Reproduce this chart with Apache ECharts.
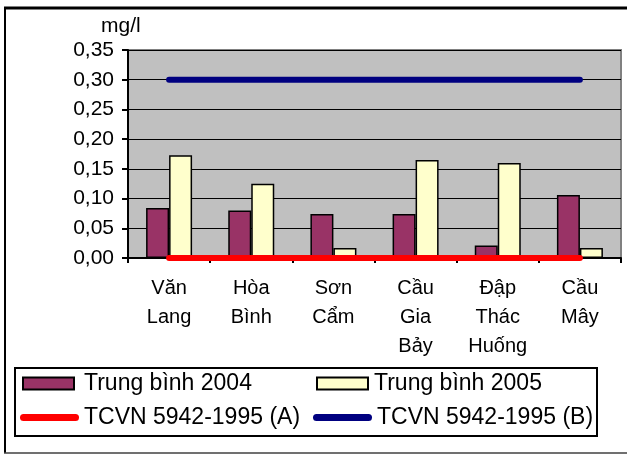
<!DOCTYPE html>
<html>
<head>
<meta charset="utf-8">
<script src="https://cdn.jsdelivr.net/npm/echarts@6/dist/echarts.min.js"></script>
<style>
  html, body { margin: 0; padding: 0; background: #ffffff; }
  #chart { width: 627px; height: 455px; }
</style>
</head>
<body>
<div id="chart"></div>
<script>
// Sampling sites (labels wrap over several lines)
const sites = ['Văn\nLang', 'Hòa\nBình', 'Sơn\nCẩm', 'Cầu\nGia\nBảy', 'Đập\nThác\nHuống', 'Cầu\nMây'];

// Annual averages, mg/l
const avg2004 = [0.084, 0.080, 0.074, 0.074, 0.021, 0.106];
const avg2005 = [0.173, 0.125, 0.017, 0.165, 0.160, 0.017];

// Standard limits TCVN 5942-1995, columns A and B
const limitA = [0, 0, 0, 0, 0, 0];
const limitB = [0.30, 0.30, 0.30, 0.30, 0.30, 0.30];

// Value-axis ticks
const yMin = 0, yMax = 0.35, yStep = 0.05;

const seriesNames = ['Trung bình 2004', 'Trung bình 2005', 'TCVN 5942-1995 (A)', 'TCVN 5942-1995 (B)'];

const FONT = '"Liberation Sans", Arial, sans-serif';
const capsule = 'path://M3.5,0 H55.5 A3.5,3.5 0 0 1 55.5,7 H3.5 A3.5,3.5 0 0 1 3.5,0 Z';

function legendItem(name, left, top, opts) {
  return Object.assign({
    data: [name],
    left: left,
    top: top,
    padding: 0,
    selectedMode: false,
    textStyle: { fontFamily: FONT, fontSize: 23, color: '#000' }
  }, opts);
}

const chart = echarts.init(document.getElementById('chart'), null, { renderer: 'canvas' });

chart.setOption({
  backgroundColor: '#ffffff',
  animation: false,
  title: {
    text: 'mg/l',
    left: 101,
    top: 16,
    padding: 0,
    textStyle: { fontFamily: FONT, fontSize: 21, fontWeight: 'normal', color: '#000' }
  },
  grid: {
    left: 128, right: 6, top: 50, bottom: 197,
    show: true,
    backgroundColor: '#c0c0c0',
    borderColor: '#808080',
    borderWidth: 2
  },
  legend: [
    legendItem(seriesNames[0], 22, 372, {
      icon: 'rect', itemWidth: 51, itemHeight: 12,
      itemStyle: { color: '#993366', borderColor: '#000', borderWidth: 2 },
      textStyle: { fontFamily: FONT, fontSize: 23, color: '#000', padding: [0, 0, 0, 5] }
    }),
    legendItem(seriesNames[1], 316, 372, {
      icon: 'rect', itemWidth: 51, itemHeight: 12,
      itemStyle: { color: '#ffffcc', borderColor: '#000', borderWidth: 2 },
      textStyle: { fontFamily: FONT, fontSize: 23, color: '#000', padding: [0, 0, 0, 1] }
    }),
    legendItem(seriesNames[2], 20, 406, {
      icon: capsule, itemWidth: 59, itemHeight: 7,
      itemStyle: { color: '#ff0000', borderWidth: 0 },
      lineStyle: { width: 0 }
    }),
    legendItem(seriesNames[3], 313, 406, {
      icon: capsule, itemWidth: 59, itemHeight: 7,
      itemStyle: { color: '#000080', borderWidth: 0 },
      lineStyle: { width: 0 }
    })
  ],
  xAxis: {
    type: 'category',
    data: sites,
    axisLine: { lineStyle: { color: '#000', width: 2 } },
    axisTick: { show: true, length: 5, lineStyle: { color: '#000', width: 2 } },
    axisLabel: {
      fontFamily: FONT, fontSize: 20, color: '#000',
      lineHeight: 29, margin: 16, interval: 0
    },
    splitLine: { show: false }
  },
  yAxis: {
    type: 'value',
    min: yMin, max: yMax, interval: yStep,
    axisLine: { show: true, lineStyle: { color: '#000', width: 2 } },
    axisTick: { show: true, length: 6, lineStyle: { color: '#000', width: 2 } },
    axisLabel: {
      fontFamily: FONT, fontSize: 21, color: '#000', margin: 14,
      formatter: v => v.toFixed(2).replace('.', ',')
    },
    splitLine: { show: true, lineStyle: { color: '#000', width: 1 } }
  },
  series: [
    {
      name: seriesNames[0], type: 'bar', data: avg2004,
      barWidth: 23, barGap: '0%',
      itemStyle: { color: '#993366', borderColor: '#000', borderWidth: 1.5 }
    },
    {
      name: seriesNames[1], type: 'bar', data: avg2005,
      barWidth: 23,
      itemStyle: { color: '#ffffcc', borderColor: '#000', borderWidth: 1.5 }
    },
    {
      name: seriesNames[2], type: 'line', data: limitA, z: 5,
      showSymbol: false, symbol: 'none',
      lineStyle: { color: '#ff0000', width: 6, cap: 'round' },
      itemStyle: { color: '#ff0000' }
    },
    {
      name: seriesNames[3], type: 'line', data: limitB, z: 5,
      showSymbol: false, symbol: 'none',
      lineStyle: { color: '#000080', width: 6, cap: 'round' },
      itemStyle: { color: '#000080' }
    }
  ],
  graphic: [
    // outer frame: heavy top and left edges, thin grey bottom edge
    { type: 'line', shape: { x1: 4, y1: 8, x2: 627, y2: 8 }, style: { stroke: '#000', lineWidth: 3 }, z: 10 },
    { type: 'line', shape: { x1: 5, y1: 7, x2: 5, y2: 453 }, style: { stroke: '#000', lineWidth: 2 }, z: 10 },
    { type: 'line', shape: { x1: 4, y1: 453, x2: 627, y2: 453 }, style: { stroke: '#404040', lineWidth: 1.5 }, z: 10 },
    // legend box
    { type: 'rect', shape: { x: 15, y: 368, width: 582, height: 68 }, style: { fill: 'none', stroke: '#000', lineWidth: 2 }, z: 10 }
  ]
});
</script>
</body>
</html>
